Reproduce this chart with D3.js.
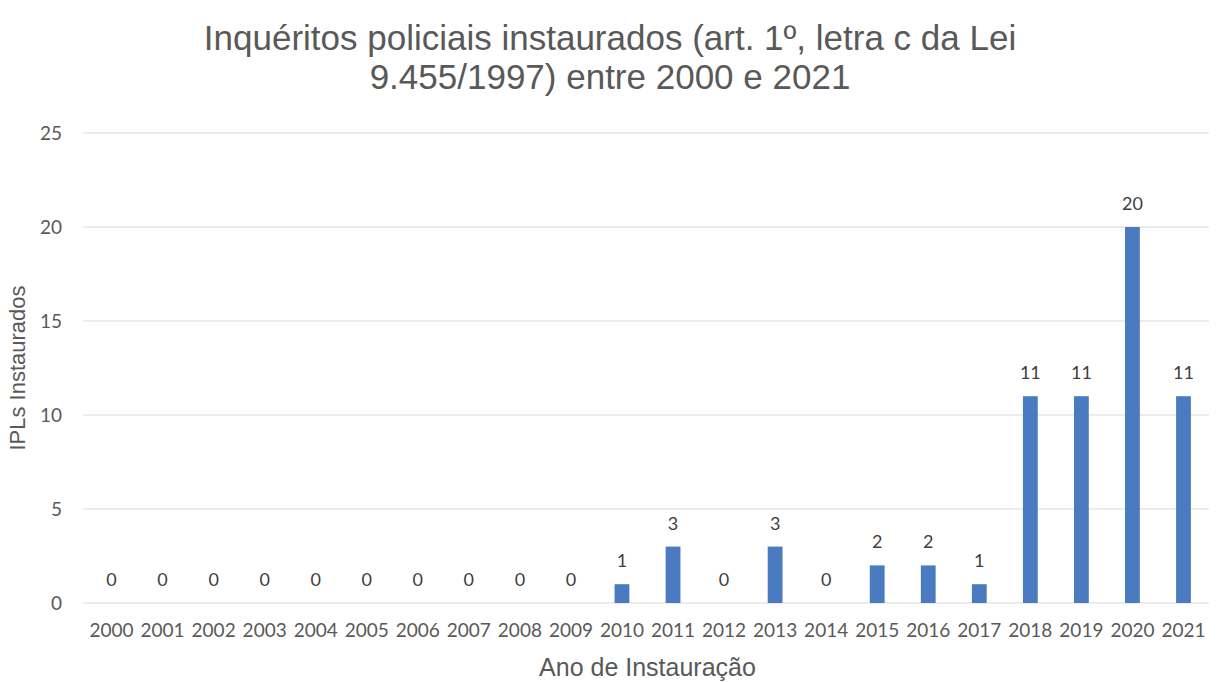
<!DOCTYPE html>
<html>
<head>
<meta charset="utf-8">
<script src="https://cdn.jsdelivr.net/npm/d3@7"></script>
<style>
  body { margin: 0; background: #fff; }
</style>
</head>
<body>
<script>
const years = ["2000","2001","2002","2003","2004","2005","2006","2007","2008","2009","2010",
  "2011","2012","2013","2014","2015","2016","2017","2018","2019","2020","2021"];
const ipls = [0,0,0,0,0,0,0,0,0,0,1,3,0,3,0,2,2,1,11,11,20,11];
const yTicks = [0,5,10,15,20,25];
const titleLines = ["Inquéritos policiais instaurados (art. 1º, letra c da Lei", "9.455/1997) entre 2000 e 2021"];

const W = 1227, H = 682;
const margin = {top: 133, right: 18, bottom: 79, left: 86};
const width = W - margin.left - margin.right,
      height = H - margin.top - margin.bottom;

const svg = d3.select("body").append("svg")
  .attr("width", W).attr("height", H);

// title
svg.append("g").selectAll("text")
  .data(titleLines)
  .enter().append("text")
  .attr("x", 610)
  .attr("y", (d, i) => 50 + i * 39)
  .attr("text-anchor", "middle")
  .style("font-family", "'Liberation Sans', Arial, sans-serif")
  .style("font-size", "35px")
  .style("fill", "#595959")
  .text(d => d);

const g = svg.append("g")
  .attr("transform", "translate(" + margin.left + "," + margin.top + ")");

const x = d3.scaleBand()
  .domain(years)
  .range([0, width])
  .paddingInner(0.71)
  .paddingOuter(0.355);

const y = d3.scaleLinear()
  .domain([0, 25])
  .range([height, 0]);

// gridlines
g.append("g").selectAll("line")
  .data(yTicks)
  .enter().append("line")
  .attr("x1", -3).attr("x2", width)
  .attr("y1", d => y(d)).attr("y2", d => y(d))
  .attr("stroke", "#d9d9d9")
  .attr("stroke-width", 1.2);

// y axis labels
const yAxis = g.append("g")
  .call(d3.axisLeft(y).tickValues(yTicks).tickSize(0).tickPadding(24));
yAxis.select(".domain").remove();
yAxis.selectAll("text")
  .style("font-family", "Lato, 'Open Sans', sans-serif")
  .style("font-size", "19px")
  .style("fill", "#595959");

// x axis labels
const xAxis = g.append("g")
  .attr("transform", "translate(0," + height + ")")
  .call(d3.axisBottom(x).tickSize(0).tickPadding(21));
xAxis.select(".domain").remove();
xAxis.selectAll("text")
  .style("font-family", "Lato, 'Open Sans', sans-serif")
  .style("font-size", "19px")
  .style("fill", "#595959");

// bars
g.append("g").selectAll("rect")
  .data(ipls)
  .enter().append("rect")
  .attr("x", (d, i) => x(years[i]))
  .attr("y", d => y(d))
  .attr("width", x.bandwidth())
  .attr("height", d => height - y(d))
  .attr("fill", "#4a7bc0");

// value labels
g.append("g").selectAll("text")
  .data(ipls)
  .enter().append("text")
  .attr("x", (d, i) => x(years[i]) + x.bandwidth() / 2)
  .attr("y", d => y(d) - 17)
  .attr("text-anchor", "middle")
  .style("font-family", "Lato, 'Open Sans', sans-serif")
  .style("font-size", "18px")
  .style("fill", "#404040")
  .text(d => d);

// axis titles
svg.append("text")
  .attr("x", margin.left + width / 2)
  .attr("y", 676)
  .attr("text-anchor", "middle")
  .style("font-family", "'Liberation Sans', Arial, sans-serif")
  .style("font-size", "25px")
  .style("fill", "#595959")
  .text("Ano de Instauração");

svg.append("text")
  .attr("transform", "translate(25," + (margin.top + height / 2) + ") rotate(-90)")
  .attr("text-anchor", "middle")
  .style("font-family", "'Liberation Sans', Arial, sans-serif")
  .style("font-size", "22px")
  .style("fill", "#595959")
  .text("IPLs Instaurados");
</script>
</body>
</html>
